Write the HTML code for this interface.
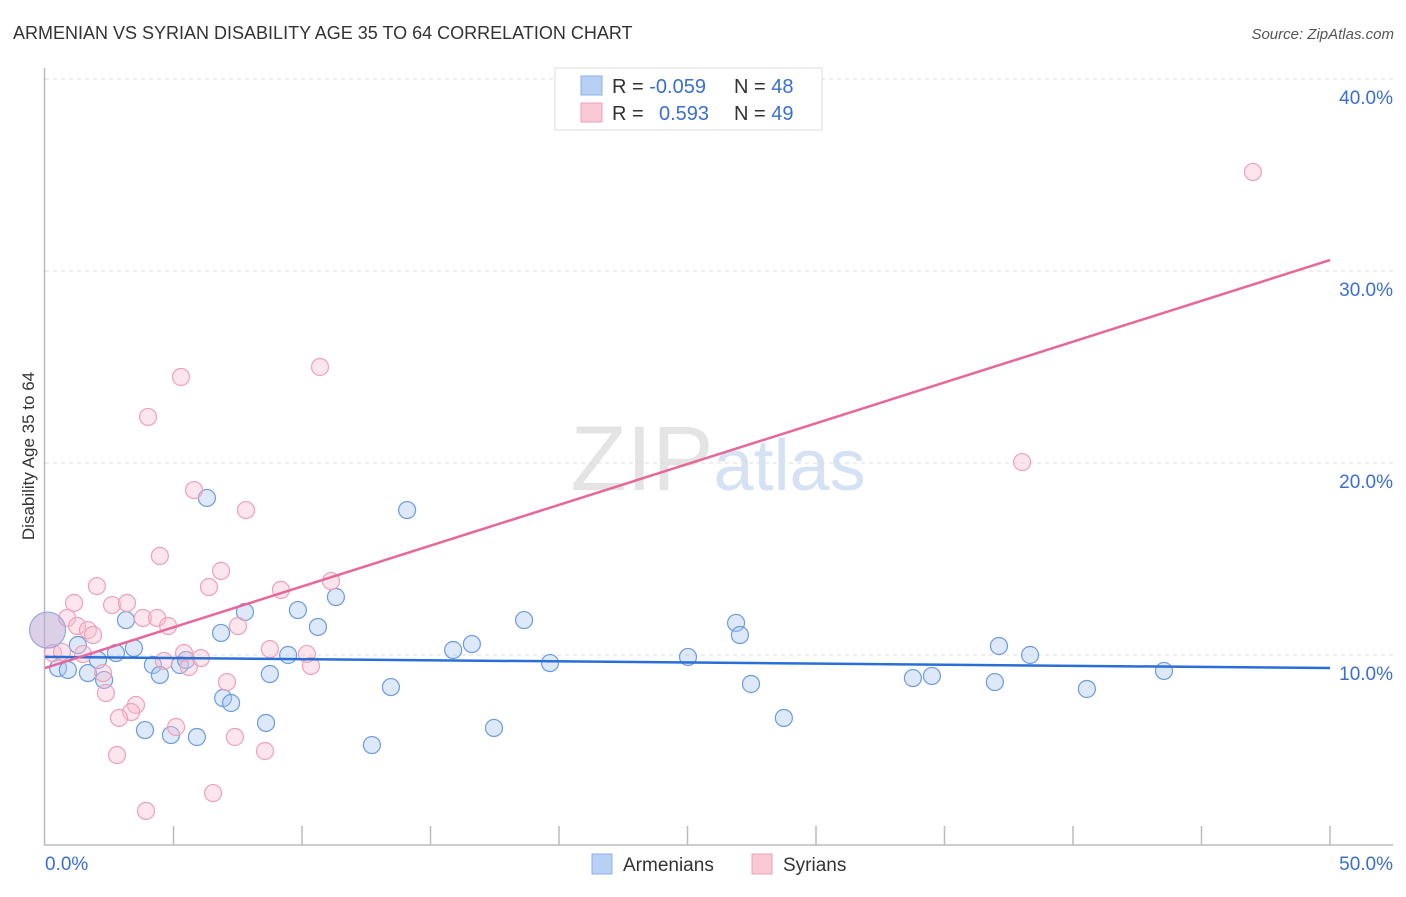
<!DOCTYPE html>
<html><head><meta charset="utf-8"><style>
body{margin:0;background:#fff;font-family:"Liberation Sans",sans-serif;}
svg text{font-family:"Liberation Sans",sans-serif;}
</style></head><body>
<svg id="chart" width="1406" height="892" viewBox="0 0 1406 892" xmlns="http://www.w3.org/2000/svg">
<text x="13" y="39" font-size="18" fill="#333">ARMENIAN VS SYRIAN DISABILITY AGE 35 TO 64 CORRELATION CHART</text>
<text x="1394" y="39" font-size="15" fill="#555" text-anchor="end" font-style="italic">Source: ZipAtlas.com</text>
<text x="718" y="490" font-size="92" text-anchor="middle" fill="#e4e4e4" font-family="Liberation Serif,serif">ZIP<tspan fill="#d4e2f4" font-family="Liberation Sans,sans-serif" font-size="72">atlas</tspan></text>
<text transform="translate(34,456) rotate(-90)" font-size="17" fill="#333" text-anchor="middle">Disability Age 35 to 64</text>
<g id="grid"></g><g id="axes"></g><g id="pts"></g><g id="lines"></g>
<g>
<rect x="555" y="68" width="267" height="62" fill="#fff" stroke="#ddd"/>
<rect x="581" y="76" width="21" height="19" fill="#b8d0f4" stroke="#8ab0e8"/>
<rect x="581" y="103" width="21" height="19" fill="#f9c9d6" stroke="#f0a0b8"/>
<text x="612" y="93" font-size="20" fill="#333">R = <tspan fill="#3a6fd0">-0.059</tspan></text>
<text x="734" y="93" font-size="20" fill="#333">N = <tspan fill="#3a6fd0">48</tspan></text>
<text x="612" y="120" font-size="20" fill="#333">R = <tspan fill="#3a6fd0" x="659">0.593</tspan></text>
<text x="734" y="120" font-size="20" fill="#333">N = <tspan fill="#3a6fd0">49</tspan></text>
</g>
<g>
<rect x="592" y="854" width="20" height="20" fill="#b8d0f4" stroke="#8ab0e8"/>
<text x="623" y="871" font-size="19" fill="#333">Armenians</text>
<rect x="752" y="854" width="20" height="20" fill="#f9c9d6" stroke="#f0a0b8"/>
<text x="783" y="871" font-size="19" fill="#333">Syrians</text>
</g>
</svg>
<script>
const armX=[0.51,0.89,1.28,1.67,2.06,2.30,2.76,3.15,3.46,3.89,4.20,4.47,4.90,5.25,5.49,5.91,6.30,6.85,6.93,7.24,7.78,8.60,8.75,9.46,9.84,10.62,11.32,12.72,13.46,14.09,15.88,16.61,17.47,18.64,19.65,25.02,26.89,27.04,27.47,28.75,33.77,34.51,36.96,37.12,38.33,40.54,43.54];
const armY=[9.32,9.22,10.52,9.06,9.74,8.70,10.10,11.82,10.36,6.09,9.48,8.96,5.83,9.48,9.74,5.73,18.18,11.15,7.76,7.50,12.24,6.46,9.01,10.00,12.34,11.46,13.02,5.31,8.33,17.55,10.26,10.57,6.20,11.82,9.58,9.90,11.67,11.04,8.49,6.72,8.80,8.91,8.59,10.47,10.00,8.23,9.17];
const syrX=[5.29,10.70,4.01,5.80,7.82,4.47,6.85,6.38,9.18,11.13,2.02,1.13,2.61,3.19,3.81,4.36,4.79,0.86,1.25,1.67,1.87,7.51,0.31,0.66,1.48,4.63,5.41,5.60,6.07,8.75,10.19,10.35,2.26,2.37,7.08,3.54,3.35,2.88,5.10,7.39,2.80,8.56,6.54,3.93,47.00,38.02];
const syrY=[24.48,25.00,22.40,18.59,17.55,15.16,14.38,13.54,13.39,13.85,13.59,12.71,12.60,12.71,11.93,11.93,11.51,11.93,11.51,11.30,11.04,11.51,10.10,10.16,10.05,9.69,10.10,9.38,9.84,10.31,10.05,9.43,9.06,8.02,8.59,7.40,7.03,6.72,6.25,5.73,4.79,5.00,2.81,1.88,35.16,20.05];
const bigX=[0.1], bigY=[11.3];
const armTrend=[9.90,9.32]; // value at x=0, x=50
const syrTrend=[9.32,30.57];
const yTicks=[10,20,30,40];
const xTickLabels=["0.0%","50.0%"];
const NS="http://www.w3.org/2000/svg";
const sx=v=>45+v*25.7, sy=v=>847-v*19.2;
function mk(t,a,p){const e=document.createElementNS(NS,t);for(const k in a)e.setAttribute(k,a[k]);p.appendChild(e);return e;}
const grid=document.getElementById('grid'),axes=document.getElementById('axes'),pts=document.getElementById('pts'),lines=document.getElementById('lines');
yTicks.forEach(t=>{
 const l=mk('line',{x1:45,x2:1393,y1:sy(t),y2:sy(t),stroke:'#ddd','stroke-dasharray':'4,4'},grid);
 
 
 const tx=mk('text',{x:1393,y:sy(t)+25,'font-size':19,fill:'#3a6fd0','text-anchor':'end'},grid);tx.textContent=t.toFixed(1)+'%';
 
 
});
mk('line',{x1:44.5,x2:44.5,y1:68,y2:845,stroke:'#bbb','stroke-width':1.5},axes);
mk('line',{x1:44,x2:1393,y1:845,y2:845,stroke:'#bbb','stroke-width':1.5},axes);
for(let i=1;i<=10;i++){const x=sx(i*5);const t=mk('line',{x1:x,x2:x,y1:826,y2:845,stroke:'#bbb','stroke-width':1.5},axes);
 
 }
const xl0=mk('text',{x:45,y:870,'font-size':19,fill:'#3a6fd0'},axes);xl0.textContent=xTickLabels[0];


const xl1=mk('text',{x:1393,y:870,'font-size':19,fill:'#3a6fd0','text-anchor':'end'},axes);xl1.textContent=xTickLabels[1];


armX.forEach((x,i)=>{const c=mk('circle',{cx:sx(x),cy:sy(armY[i]),r:8.5,fill:'rgba(170,200,240,0.4)',stroke:'#6b9be0','stroke-width':1.2},pts);
 
 });
syrX.forEach((x,i)=>{const c=mk('circle',{cx:sx(x),cy:sy(syrY[i]),r:8.5,fill:'rgba(248,190,208,0.4)',stroke:'#f0a0b8','stroke-width':1.2},pts);
 
 });
bigX.forEach((x,i)=>{const c=mk('circle',{cx:sx(x),cy:sy(bigY[i]),r:18,fill:'rgba(190,170,210,0.55)',stroke:'#9aa8e0','stroke-width':1.2},pts);
 
 });
const al=mk('line',{x1:sx(0),y1:sy(armTrend[0]),x2:sx(50),y2:sy(armTrend[1]),stroke:'#2a6fd6','stroke-width':2.5},lines);


const sl=mk('line',{x1:sx(0),y1:sy(syrTrend[0]),x2:sx(50),y2:sy(syrTrend[1]),stroke:'#e8679a','stroke-width':2.5},lines);


</script>
</body></html>
